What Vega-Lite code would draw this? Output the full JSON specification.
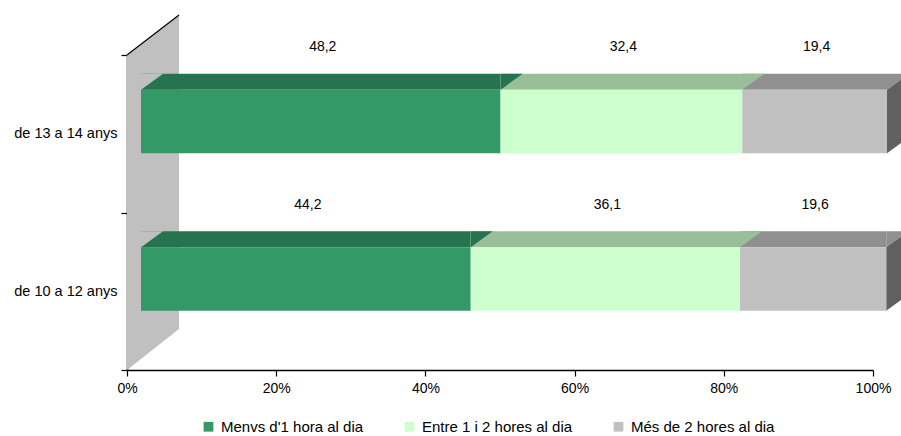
{
  "$schema": "https://vega.github.io/schema/vega-lite/v6.json",
  "width": 746,
  "height": 315,
  "autosize": {"type": "none"},
  "padding": {"left": 127, "top": 55, "right": 28, "bottom": 66},
  "background": "white",
  "datasets": {
    "main": [
      {"age": "de 13 a 14 anys", "cat": "Menvs d'1 hora al dia", "ord": 1, "value": 48.2},
      {"age": "de 13 a 14 anys", "cat": "Entre 1 i 2 hores al dia", "ord": 2, "value": 32.4},
      {"age": "de 13 a 14 anys", "cat": "Més de 2 hores al dia", "ord": 3, "value": 19.4},
      {"age": "de 10 a 12 anys", "cat": "Menvs d'1 hora al dia", "ord": 1, "value": 44.2},
      {"age": "de 10 a 12 anys", "cat": "Entre 1 i 2 hores al dia", "ord": 2, "value": 36.1},
      {"age": "de 10 a 12 anys", "cat": "Més de 2 hores al dia", "ord": 3, "value": 19.6}
    ]
  },
  "config": {
    "view": {"stroke": null},
    "font": "Liberation Sans",
    "locale": {"number": {"decimal": ",", "thousands": ".", "grouping": [3], "currency": ["", " €"]}},
    "axis": {"grid": false, "title": null, "domainColor": "#000000", "tickColor": "#000000", "labelColor": "#000000", "labelFont": "Liberation Sans", "labelFontSize": 14, "tickSize": 6, "domainWidth": 1.5, "tickWidth": 1.2, "labelFlush": false}
  },
  "layer": [
    {
      "data": {"values": [{"w": 1}]},
      "mark": {"type": "point", "filled": true, "fill": "#C0C0C0", "opacity": 1, "strokeWidth": 0, "size": 160000, "shape": "M0,-0.7875 L0.26,-0.9875 L0.26,0.5825 L0,0.7875 Z"},
      "encoding": {"x": {"datum": 0, "type": "quantitative", "scale": {"domain": [0, 100], "nice": false}}}
    },
    {
      "data": {"values": [{"w": 1}]},
      "mark": {"type": "point", "filled": false, "stroke": "#000000", "opacity": 1, "strokeWidth": 1.2, "size": 160000, "shape": "M0,-0.7875 L0.26,-0.9875"},
      "encoding": {"x": {"datum": 0, "type": "quantitative"}}
    },
    {
      "data": {"name": "main"},
      "transform": [{"stack": "value", "groupby": ["age"], "sort": [{"field": "ord"}], "as": ["v0", "v1"]}],
      "mark": {"type": "bar", "size": 16, "xOffset": 14, "x2Offset": 14, "yOffset": -52},
      "encoding": {
        "y": {"field": "age", "type": "nominal", "scale": {"domain": ["de 13 a 14 anys", "de 10 a 12 anys"], "paddingInner": 0, "paddingOuter": 0}, "axis": {"tickBand": "extent", "labelPadding": 4, "labelFontSize": 14.5}},
        "x": {"field": "v0", "type": "quantitative", "axis": {"values": [0, 20, 40, 60, 80, 100], "labelExpr": "datum.value + '%'", "labelPadding": 5}},
        "x2": {"field": "v1"},
        "fill": {"field": "cat", "type": "nominal", "scale": {"domain": ["Més de 2 hores al dia", "Entre 1 i 2 hores al dia", "Menvs d'1 hora al dia"], "range": ["#909090", "#99BF99", "#267350"]}, "legend": null}
      }
    },
    {
      "data": {"name": "main"},
      "transform": [{"stack": "value", "groupby": ["age"], "sort": [{"field": "ord"}], "as": ["v0", "v1"]}],
      "mark": {"type": "point", "filled": true, "opacity": 1, "strokeWidth": 0, "size": 1936, "xOffset": 14, "yOffset": -44, "shape": "M0,0 L0,-0.7273 L1,-0.7273 Z"},
      "encoding": {
        "y": {"field": "age", "type": "nominal"},
        "x": {"field": "v1", "type": "quantitative"},
        "fill": {"field": "cat", "type": "nominal", "legend": null}
      }
    },
    {
      "data": {"name": "main"},
      "transform": [{"filter": "datum.ord == 1"}],
      "mark": {"type": "point", "filled": true, "fill": "#C0C0C0", "opacity": 1, "strokeWidth": 0, "size": 1936, "xOffset": 14, "yOffset": -44, "shape": "M0,0 L0,-0.7273 L1,-0.7273 Z"},
      "encoding": {
        "y": {"field": "age", "type": "nominal"},
        "x": {"datum": 0, "type": "quantitative"}
      }
    },
    {
      "data": {"name": "main"},
      "transform": [{"stack": "value", "groupby": ["age"], "sort": [{"field": "ord"}], "as": ["v0", "v1"]}, {"filter": "datum.ord == 3"}],
      "mark": {"type": "point", "filled": true, "fill": "#606060", "opacity": 1, "strokeWidth": 0, "size": 1936, "xOffset": 14, "yOffset": -44, "shape": "M0,0 L1,-0.7273 L1,2.1591 L0,2.8864 Z"},
      "encoding": {
        "y": {"field": "age", "type": "nominal"},
        "x": {"field": "v1", "type": "quantitative"}
      }
    },
    {
      "data": {"name": "main"},
      "transform": [{"stack": "value", "groupby": ["age"], "sort": [{"field": "ord"}], "as": ["v0", "v1"]}],
      "mark": {"type": "bar", "size": 63.5, "xOffset": 14, "x2Offset": 14, "yOffset": -12.25},
      "encoding": {
        "y": {"field": "age", "type": "nominal"},
        "x": {"field": "v0", "type": "quantitative"},
        "x2": {"field": "v1"},
        "color": {"field": "cat", "type": "nominal", "scale": {"domain": ["Menvs d'1 hora al dia", "Entre 1 i 2 hores al dia", "Més de 2 hores al dia"], "range": ["#339966", "#CCFFCC", "#C0C0C0"]},
          "legend": {"title": null, "orient": "none", "legendX": 74, "legendY": 364, "direction": "horizontal", "symbolType": "square", "symbolSize": 95, "symbolStrokeWidth": 0, "labelFontSize": 15, "labelFont": "Liberation Sans", "labelColor": "#000000", "columnPadding": 38, "labelOffset": 5}}
      }
    },
    {
      "data": {"name": "main"},
      "transform": [{"stack": "value", "groupby": ["age"], "sort": [{"field": "ord"}], "as": ["v0", "v1"]}, {"fold": ["v0", "v1"], "as": ["edge", "pos"]}],
      "mark": {"type": "text", "fontSize": 14, "color": "#000000", "xOffset": 16, "yOffset": -86.5, "baseline": "middle", "align": "center"},
      "encoding": {
        "y": {"field": "age", "type": "nominal"},
        "x": {"field": "pos", "type": "quantitative", "aggregate": "mean"},
        "detail": {"field": "cat", "type": "nominal"},
        "text": {"field": "value", "type": "quantitative", "aggregate": "max", "format": ".1f"}
      }
    }
  ]
}
